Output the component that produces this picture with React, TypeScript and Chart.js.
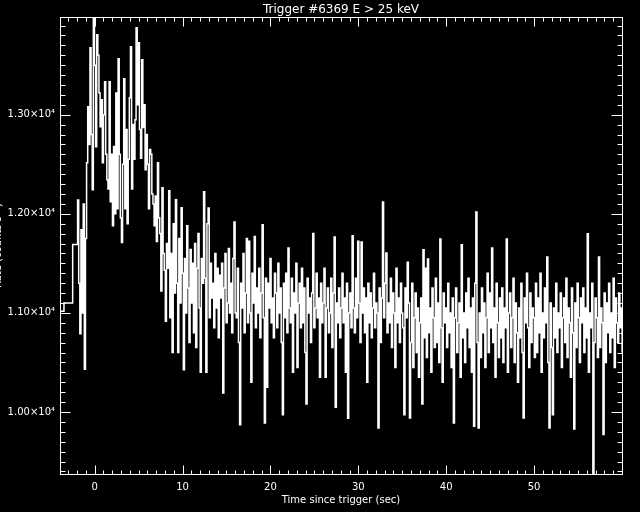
import { useEffect, useRef } from "react";
import { Chart, registerables } from "chart.js";

Chart.register(...registerables);

const TITLE = "Trigger #6369 E > 25 keV";
const X_TITLE = "Time since trigger (sec)";
const Y_TITLE = "Rate (counts s\u207B\u00B9)";

const X_TICKS = [0, 10, 20, 30, 40, 50];
const Y_TICKS = [10000, 11000, 12000, 13000];
const X_MIN = -3.94;
const X_MAX = 60.0;
const Y_MIN = 9374;
const Y_MAX = 13986;

// coarse pre-trigger bins (left edges, s) and rates (counts/s)
const PRE_EDGES = [-4.0, -3.49, -2.5];
const PRE_RATES = [11016, 11100, 11690];

// fine-resolution bins
const FINE_START = -1.94;
const FINE_BIN = 0.128;
const FINE_RATES = [
  12140, 11300, 10790, 11840, 11000, 12100, 10430, 11750,
  12515, 13080, 12700, 13676, 12800, 12243, 14100, 13500,
  12677, 13807, 13600, 13222, 12879, 13150, 12515, 13000,
  13333, 12600, 12344, 12250, 13333, 12122, 12600, 11880,
  12680, 12000, 13220, 12050, 13565, 12600, 11960, 11710,
  12500, 13363, 12050, 12850, 11900, 12550, 13170, 13686,
  12250, 12900, 12550, 12950, 13878, 13100, 13726, 12850,
  12560, 13555, 12870, 13100, 12445, 12800, 12500, 12050,
  12650, 12600, 12200, 12100, 11880, 12180, 11720, 12515,
  11960, 11800, 11220, 12263, 11600, 11430, 10915, 11700,
  11450, 12233, 10950, 11600, 10600, 11900, 11200, 12142,
  11300, 10600, 11750, 11100, 12061, 11400, 10427, 11550,
  11000, 11880, 11250, 10700, 11640, 11100, 11500, 10800,
  11700, 10650, 11450, 11800, 11050, 10400, 11550, 11300,
  12223, 11350, 10400, 11900, 12058, 10950, 11500, 11150,
  11300, 10850, 11600, 11050, 11450, 10750, 11380, 11150,
  11500, 10192, 11250, 11600, 10900, 11100, 11650, 11000,
  11300, 10800, 11550, 11917, 11000, 10950, 11450, 10700,
  9872, 11300, 11050, 11600, 10800, 11200, 11750, 10900,
  11722, 11000, 10300, 11400, 11100, 11772, 10850, 11250,
  11000, 11450, 10750, 11200, 11890, 10950, 9889, 11350,
  10250, 11300, 11050, 11550, 10900, 11150, 10750, 11400,
  11200, 10850, 11500, 11000, 11250, 10700, 9973, 11300,
  10950, 11400, 10800, 11655, 11050, 10900, 11350, 10400,
  11200, 11000, 11500, 10450, 11100, 11300, 10850, 11450,
  10900, 11250, 10600, 10081, 11350, 11000, 11150, 10700,
  11200, 11800, 10850, 11050, 11400, 10950, 11150, 10350,
  11300, 10900, 11100, 11450, 10350, 11050, 11250, 10800,
  11000, 11350, 10650, 11200, 11766, 10047, 11100, 10900,
  11250, 10750, 11050, 11400, 10900, 11150, 10400, 11300,
  9936, 11000, 11200, 10850, 11779, 11050, 10800, 11350,
  10950, 11722, 11100, 10700, 11715, 11000, 11250, 10800,
  11150, 10300, 11300, 10900, 11200, 10750, 11050, 11400,
  10850, 11100, 11000, 9839, 11250, 10700, 11150, 12119,
  10950, 11300, 11604, 10800, 11100, 10900, 11350, 10650,
  11200, 11000, 10450, 11450, 10900, 11150, 10700, 11300,
  11000, 10850, 9973, 11250, 10950, 11510, 11100, 9939,
  10700, 11300, 10450, 10950, 11200, 10600, 11050, 10350,
  10900, 11150, 10081, 11638, 10750, 11450, 10550, 11544,
  10800, 11050, 10400, 11250, 10950, 10650, 11350, 10700,
  11100, 10500, 11745, 10850, 10300, 11200, 10900, 11050,
  10650, 11300, 10800, 11000, 10450, 11150, 9889, 10950,
  11250, 10600, 10900, 11100, 10350, 11688, 10750, 11000,
  10500, 11200, 10850, 11350, 10650, 11050, 10400, 11150,
  9856, 11300, 12018, 10700, 9839, 11000, 10550, 11250,
  10800, 11100, 10450, 10950, 11400, 10600, 11200, 10850,
  11655, 10700, 11050, 10350, 11300, 10900, 10550, 11150,
  10750, 11250, 10500, 11050, 10850, 11745, 10400, 11000,
  11200, 10650, 10950, 11350, 10500, 11100, 10800, 10300,
  11050, 10750, 11300, 10600, 9940, 11150, 10900, 11400,
  10850, 10450, 11200, 10700, 11050, 10950, 10550, 11300,
  10600, 11150, 10800, 11400, 10400, 11000, 10750, 11250,
  10900, 11564, 10500, 9839, 11100, 10650, 9973, 11050,
  10750, 11300, 10600, 11000, 10850, 11200, 10450, 10950,
  11150, 10700, 11350, 10550, 11050, 10900, 10350, 11250,
  10800, 9829, 11100, 10650, 11300, 10950, 10500, 11150,
  10900, 11250, 10600, 11050, 10750, 11799, 10400, 11000,
  10850, 11300, 9200, 10700, 11150, 10950, 10550, 11564,
  10650, 11050, 10900, 9772, 11200, 10500, 11100, 10800,
  11300, 10600, 11000, 10750, 11350, 10450, 11150, 10900,
  10700, 11200, 10850, 11050, 10600, 11100, 10950, 11000,
];

const FONT = "DejaVu Sans";

function buildPoints() {
  const pts: { x: number; y: number }[] = [];
  for (let i = 0; i < PRE_EDGES.length; i++) pts.push({ x: PRE_EDGES[i], y: PRE_RATES[i] });
  for (let i = 0; i < FINE_RATES.length; i++) pts.push({ x: FINE_START + i * FINE_BIN, y: FINE_RATES[i] });
  pts.push({ x: FINE_START + FINE_RATES.length * FINE_BIN, y: FINE_RATES[FINE_RATES.length - 1] });
  return pts;
}

const framePlugin = {
  id: "idlFrame",
  beforeDraw(chart: any) {
    const ctx = chart.ctx;
    ctx.save();
    ctx.fillStyle = "#000";
    ctx.fillRect(0, 0, chart.width, chart.height);
    ctx.restore();
  },
  afterDatasetsDraw(chart: any) {
    const { ctx, chartArea: a, scales } = chart;
    const xs = scales.x;
    const ys = scales.y;
    const L = Math.round(a.left) + 0.5;
    const R = Math.round(a.right) + 0.5;
    const T = Math.round(a.top) + 0.5;
    const B = Math.round(a.bottom) + 0.5;
    ctx.save();
    ctx.strokeStyle = "#fff";
    ctx.lineWidth = 1;
    ctx.strokeRect(L, T, R - L, B - T);
    ctx.beginPath();
    for (let v = Math.ceil(X_MIN); v <= Math.floor(X_MAX); v++) {
      const major = v % 10 === 0;
      const len = major ? 9 : 4;
      const px = Math.round(xs.getPixelForValue(v)) + 0.5;
      ctx.moveTo(px, B);
      ctx.lineTo(px, B - len);
      ctx.moveTo(px, T);
      ctx.lineTo(px, T + len);
    }
    for (let v = Math.ceil(Y_MIN / 100) * 100; v <= Y_MAX; v += 100) {
      const major = v % 1000 === 0;
      const py = Math.round(ys.getPixelForValue(v)) + 0.5;
      ctx.moveTo(L, py);
      ctx.lineTo(L + (major ? 10 : 5), py);
      ctx.moveTo(R, py);
      ctx.lineTo(R - (major ? 11 : 5), py);
    }
    ctx.stroke();
    ctx.restore();
  },
  afterDraw(chart: any) {
    const { ctx, chartArea: a } = chart;
    ctx.save();
    ctx.fillStyle = "#fff";
    ctx.font = `12px ${FONT}`;
    ctx.textAlign = "center";
    ctx.textBaseline = "middle";
    ctx.fillText(TITLE, (a.left + a.right) / 2, 10);
    ctx.font = `10px ${FONT}`;
    ctx.translate(1, (a.top + a.bottom) / 2);
    ctx.rotate(-Math.PI / 2);
    ctx.textBaseline = "alphabetic";
    ctx.fillText(Y_TITLE, 0, 0);
    ctx.restore();
  },
};

export default function App() {
  const ref = useRef<HTMLCanvasElement | null>(null);

  useEffect(() => {
    if (!ref.current) return;
    const chart = new Chart(ref.current, {
      type: "line",
      data: {
        datasets: [
          {
            data: buildPoints(),
            borderColor: "#fff",
            borderWidth: 1.5,
            pointRadius: 0,
            stepped: "before",
            fill: false,
            tension: 0,
          },
        ],
      },
      options: {
        animation: false,
        responsive: false,
        devicePixelRatio: 1,
        parsing: false,
        layout: { padding: { left: 0, right: 18, top: 17, bottom: 0 } },
        plugins: {
          legend: { display: false },
          tooltip: { enabled: false },
          title: { display: false },
        },
        scales: {
          x: {
            type: "linear",
            min: X_MIN,
            max: X_MAX,
            grid: { display: false, drawTicks: false },
            border: { display: false },
            afterBuildTicks: (s: any) => {
              s.ticks = X_TICKS.map((v) => ({ value: v }));
            },
            afterFit: (s: any) => {
              s.height = 38;
            },
            ticks: {
              color: "#fff",
              font: { family: FONT, size: 10 },
              padding: 7,
              autoSkip: false,
              maxRotation: 0,
              callback: (v: any) => String(v),
            },
            title: {
              display: true,
              text: X_TITLE,
              color: "#fff",
              font: { family: FONT, size: 10 },
              padding: { top: 0, bottom: 6 },
            },
          },
          y: {
            type: "linear",
            min: Y_MIN,
            max: Y_MAX,
            grid: { display: false, drawTicks: false },
            border: { display: false },
            afterBuildTicks: (s: any) => {
              s.ticks = Y_TICKS.map((v) => ({ value: v }));
            },
            afterFit: (s: any) => {
              s.width = 60;
            },
            ticks: {
              color: "#fff",
              font: { family: FONT, size: 10 },
              padding: 5,
              autoSkip: false,
              callback: (v: any) => (Number(v) / 10000).toFixed(2) + "\u00D710\u2074",
            },
          },
        },
      } as any,
      plugins: [framePlugin],
    });
    return () => chart.destroy();
  }, []);

  return (
    <div style={{ position: "fixed", left: 0, top: 0, width: 640, height: 512, background: "#000" }}>
      <canvas ref={ref} width={640} height={512} style={{ display: "block" }} />
    </div>
  );
}
